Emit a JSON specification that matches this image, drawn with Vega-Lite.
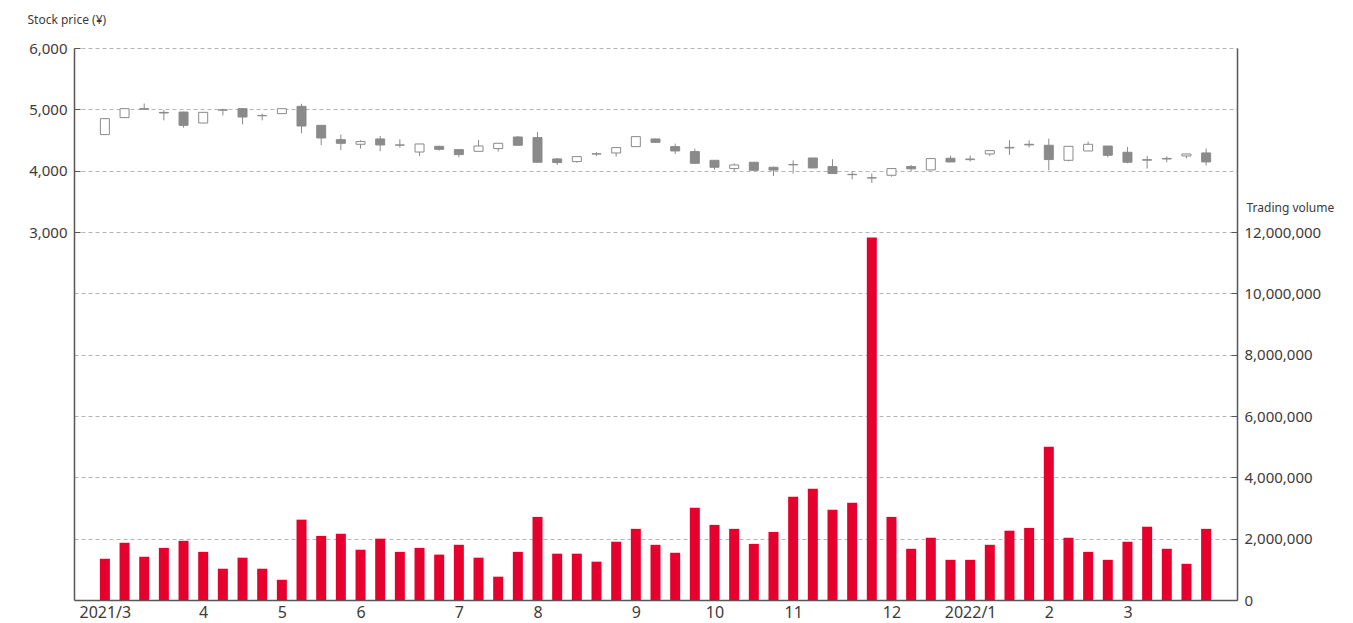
{
  "$schema": "https://vega.github.io/schema/vega-lite/v6.json",
  "width": 1163,
  "height": 552,
  "autosize": {"type": "none"},
  "padding": {"left": 74, "top": 48, "right": 116, "bottom": 23},
  "background": "white",
  "config": {
    "view": {"stroke": null},
    "font": "Noto Sans",
    "axis": {
      "domainColor": "#5a5655",
      "domainWidth": 1.5,
      "labelColor": "#3e3a39",
      "titleColor": "#3e3a39",
      "labelFont": "Noto Sans",
      "titleFont": "Noto Sans",
      "titleFontWeight": "normal",
      "tickColor": "#5a5655"
    }
  },
  "data": {
    "values": [
      {"i": 0, "o": 4588, "c": 4848, "h": 4850, "l": 4585, "v": 1345000},
      {"i": 1, "o": 4865, "c": 5011, "h": 5011, "l": 4865, "v": 1866000},
      {"i": 2, "o": 5000, "c": 5012, "h": 5095, "l": 4990, "v": 1410000},
      {"i": 3, "o": 4950, "c": 4940, "h": 4990, "l": 4820, "v": 1700000},
      {"i": 4, "o": 4956, "c": 4739, "h": 4960, "l": 4700, "v": 1930000},
      {"i": 5, "o": 4777, "c": 4951, "h": 4951, "l": 4777, "v": 1570000},
      {"i": 6, "o": 4985, "c": 4992, "h": 5010, "l": 4900, "v": 1020000},
      {"i": 7, "o": 5011, "c": 4875, "h": 5015, "l": 4755, "v": 1380000},
      {"i": 8, "o": 4895, "c": 4900, "h": 4930, "l": 4820, "v": 1020000},
      {"i": 9, "o": 4930, "c": 5011, "h": 5011, "l": 4930, "v": 660000},
      {"i": 10, "o": 5049, "c": 4728, "h": 5090, "l": 4610, "v": 2620000},
      {"i": 11, "o": 4739, "c": 4533, "h": 4740, "l": 4415, "v": 2090000},
      {"i": 12, "o": 4506, "c": 4446, "h": 4590, "l": 4337, "v": 2160000},
      {"i": 13, "o": 4430, "c": 4474, "h": 4495, "l": 4360, "v": 1640000},
      {"i": 14, "o": 4517, "c": 4419, "h": 4566, "l": 4316, "v": 2000000},
      {"i": 15, "o": 4415, "c": 4420, "h": 4511, "l": 4376, "v": 1570000},
      {"i": 16, "o": 4304, "c": 4435, "h": 4435, "l": 4240, "v": 1700000},
      {"i": 17, "o": 4397, "c": 4348, "h": 4408, "l": 4327, "v": 1480000},
      {"i": 18, "o": 4343, "c": 4262, "h": 4343, "l": 4218, "v": 1800000},
      {"i": 19, "o": 4316, "c": 4402, "h": 4500, "l": 4316, "v": 1380000},
      {"i": 20, "o": 4360, "c": 4446, "h": 4446, "l": 4311, "v": 760000},
      {"i": 21, "o": 4549, "c": 4414, "h": 4566, "l": 4414, "v": 1570000},
      {"i": 22, "o": 4539, "c": 4137, "h": 4630, "l": 4137, "v": 2710000},
      {"i": 23, "o": 4191, "c": 4132, "h": 4207, "l": 4093, "v": 1510000},
      {"i": 24, "o": 4148, "c": 4229, "h": 4235, "l": 4132, "v": 1510000},
      {"i": 25, "o": 4270, "c": 4276, "h": 4300, "l": 4240, "v": 1250000},
      {"i": 26, "o": 4288, "c": 4376, "h": 4376, "l": 4229, "v": 1900000},
      {"i": 27, "o": 4392, "c": 4555, "h": 4555, "l": 4392, "v": 2320000},
      {"i": 28, "o": 4517, "c": 4462, "h": 4520, "l": 4455, "v": 1800000},
      {"i": 29, "o": 4392, "c": 4321, "h": 4441, "l": 4272, "v": 1540000},
      {"i": 30, "o": 4311, "c": 4120, "h": 4360, "l": 4120, "v": 3010000},
      {"i": 31, "o": 4169, "c": 4055, "h": 4169, "l": 4018, "v": 2450000},
      {"i": 32, "o": 4034, "c": 4093, "h": 4120, "l": 3995, "v": 2320000},
      {"i": 33, "o": 4137, "c": 4006, "h": 4137, "l": 4006, "v": 1830000},
      {"i": 34, "o": 4055, "c": 4010, "h": 4066, "l": 3913, "v": 2220000},
      {"i": 35, "o": 4095, "c": 4101, "h": 4169, "l": 3953, "v": 3370000},
      {"i": 36, "o": 4207, "c": 4044, "h": 4207, "l": 4044, "v": 3630000},
      {"i": 37, "o": 4066, "c": 3953, "h": 4186, "l": 3950, "v": 2940000},
      {"i": 38, "o": 3940, "c": 3935, "h": 3990, "l": 3860, "v": 3170000},
      {"i": 39, "o": 3880, "c": 3885, "h": 3953, "l": 3800, "v": 11820000},
      {"i": 40, "o": 3925, "c": 4034, "h": 4034, "l": 3903, "v": 2710000},
      {"i": 41, "o": 4066, "c": 4030, "h": 4093, "l": 3995, "v": 1670000},
      {"i": 42, "o": 4012, "c": 4197, "h": 4197, "l": 4012, "v": 2030000},
      {"i": 43, "o": 4202, "c": 4142, "h": 4245, "l": 4142, "v": 1310000},
      {"i": 44, "o": 4180, "c": 4190, "h": 4245, "l": 4148, "v": 1310000},
      {"i": 45, "o": 4272, "c": 4327, "h": 4327, "l": 4240, "v": 1800000},
      {"i": 46, "o": 4370, "c": 4380, "h": 4495, "l": 4256, "v": 2260000},
      {"i": 47, "o": 4430, "c": 4420, "h": 4495, "l": 4376, "v": 2350000},
      {"i": 48, "o": 4414, "c": 4181, "h": 4523, "l": 4006, "v": 5000000},
      {"i": 49, "o": 4169, "c": 4397, "h": 4397, "l": 4153, "v": 2030000},
      {"i": 50, "o": 4321, "c": 4430, "h": 4474, "l": 4321, "v": 1570000},
      {"i": 51, "o": 4402, "c": 4251, "h": 4402, "l": 4218, "v": 1310000},
      {"i": 52, "o": 4300, "c": 4137, "h": 4386, "l": 4120, "v": 1900000},
      {"i": 53, "o": 4170, "c": 4180, "h": 4240, "l": 4034, "v": 2390000},
      {"i": 54, "o": 4190, "c": 4200, "h": 4234, "l": 4137, "v": 1670000},
      {"i": 55, "o": 4240, "c": 4272, "h": 4272, "l": 4202, "v": 1180000},
      {"i": 56, "o": 4289, "c": 4142, "h": 4360, "l": 4083, "v": 2320000}
    ]
  },
  "encoding": {
    "x": {
      "field": "i",
      "type": "quantitative",
      "scale": {"domain": [-1.57, 57.57], "nice": false, "zero": false, "padding": 0},
      "axis": {
        "title": null,
        "grid": false,
        "ticks": false,
        "values": [0, 5, 9, 13, 18, 22, 27, 31, 35, 40, 44, 48, 52],
        "labelExpr": "['2021/3','4','5','6','7','8','9','10','11','12','2022/1','2','3'][indexof([0,5,9,13,18,22,27,31,35,40,44,48,52], datum.value)]",
        "labelFontSize": 16,
        "labelPadding": 4,
        "labelFlush": false
      }
    }
  },
  "layer": [
    {
      "mark": {"type": "bar", "color": "#e5002d", "size": 10},
      "encoding": {
        "y": {
          "field": "v",
          "type": "quantitative",
          "scale": {"domain": [0, 18000000], "nice": false, "padding": 0},
          "axis": {
            "orient": "right",
            "values": [0, 2000000, 4000000, 6000000, 8000000, 10000000, 12000000],
            "format": ",.0f",
            "grid": false,
            "tickSize": -6,
            "labelPadding": 13,
            "labelFontSize": 15,
            "title": "Trading volume",
            "titleAngle": 0,
            "titleAlign": "left",
            "titleBaseline": "middle",
            "titleX": 9,
            "titleY": 159,
            "titleFontSize": 12
          }
        }
      }
    },
    {
      "layer": [
        {
          "mark": {"type": "rule", "color": "#8a8a8a", "strokeWidth": 1},
          "encoding": {
            "y": {
              "field": "l",
              "type": "quantitative",
              "scale": {"domain": [-3000, 6000], "nice": false, "zero": false, "padding": 0},
              "axis": {
                "orient": "left",
                "values": [-2000, -1000, 0, 1000, 2000, 3000, 4000, 5000, 6000],
                "labelExpr": "datum.value >= 3000 ? format(datum.value, ',') : ''",
                "grid": true,
                "gridColor": "#b5b5b6",
                "gridDash": [4, 3],
                "gridWidth": 1,
                "tickSize": -6,
                "tickOpacity": {"condition": {"test": "datum.value >= 3000", "value": 1}, "value": 0},
                "labelPadding": 13,
                "labelFontSize": 15,
                "title": "Stock price (¥)",
                "titleAngle": 0,
                "titleAlign": "left",
                "titleBaseline": "middle",
                "titleX": -47,
                "titleY": -29,
                "titleFontSize": 12
              }
            },
            "y2": {"field": "h"}
          }
        },
        {
          "mark": {"type": "bar", "size": 9, "stroke": "#8a8a8a", "strokeWidth": 1},
          "encoding": {
            "y": {"field": "o", "type": "quantitative"},
            "y2": {"field": "c"},
            "fill": {"condition": {"test": "datum.c >= datum.o", "value": "#ffffff"}, "value": "#8a8a8a"}
          }
        }
      ]
    }
  ],
  "resolve": {"scale": {"y": "independent"}}
}
